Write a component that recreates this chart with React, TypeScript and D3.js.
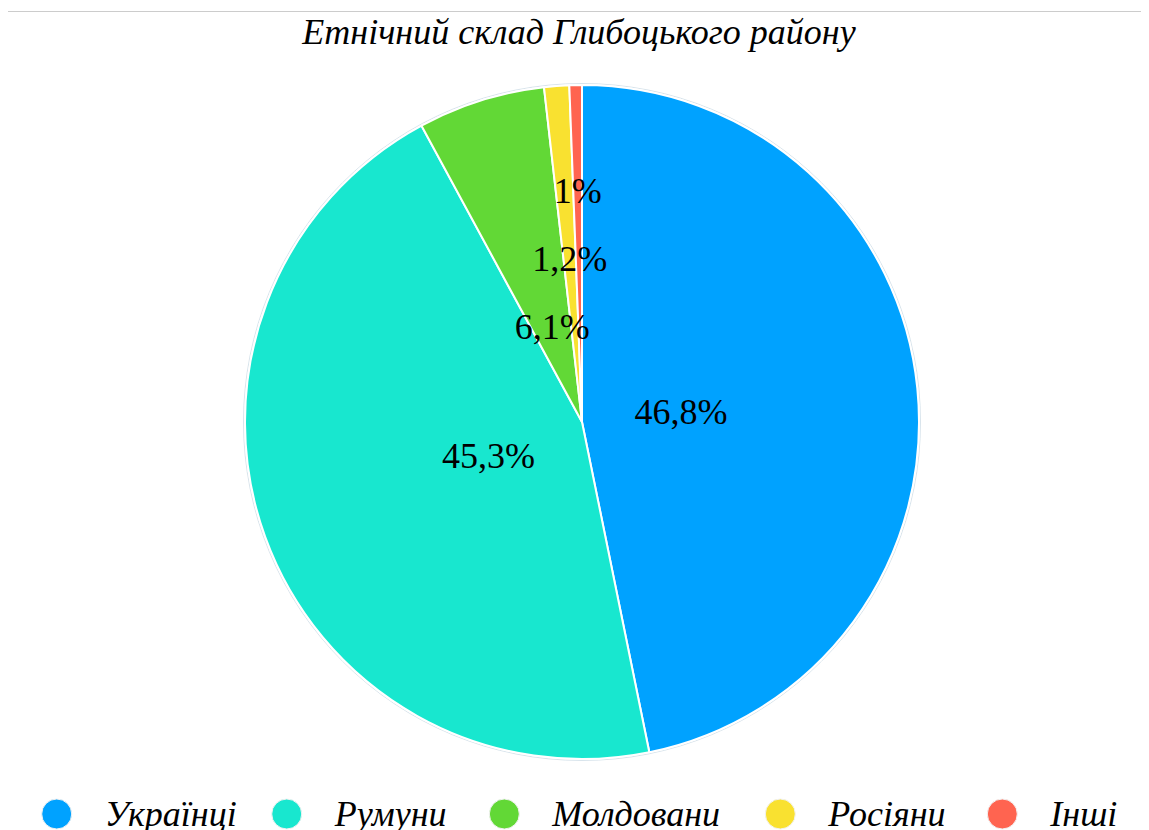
import React from "react";
import * as d3 from "d3";

const title = "Етнічний склад Глибоцького району";
const categories = ["Українці", "Румуни", "Молдовани", "Росіяни", "Інші"];
const values = [46.8, 45.3, 6.1, 1.2, 0.6];
const labels = ["46,8%", "45,3%", "6,1%", "1,2%", "1%"];
const colors = ["#00a2ff", "#18e7cf", "#62d836", "#f9e130", "#ff6450"];

const W = 1149;
const H = 830;
const FONT = "Liberation Serif";
const FS = 36;

// approximate glyph advance widths (em) for a Times-like serif font
const glyphW: Record<string, number> = {
  ",": 0.25, "%": 0.833, "і": 0.278, "ї": 0.278, "ш": 0.722, "м": 0.6,
  "У": 0.556, "Р": 0.611, "М": 0.833, "І": 0.333, "к": 0.444, "с": 0.444,
};
function estWidth(text: string): number {
  let s = 0;
  for (const ch of text) s += glyphW[ch] ?? 0.5;
  return s * FS;
}

export default function App() {
  const cx = 582, cy = 422, R = 337;
  const pie = d3.pie<number>().sort(null).value((d) => d);
  const arcs = pie(values);
  const arc = d3.arc<d3.PieArcDatum<number>>().innerRadius(0).outerRadius(R);

  // labels with simple collision avoidance along the slice ray
  const placed: { x: number; y: number; w: number }[] = [];
  const baseR = R * 0.295;
  const minGap = 68;
  const labelPos = arcs.map((a, i) => {
    const mid = (a.startAngle + a.endAngle) / 2;
    const w = estWidth(labels[i]);
    let r = baseR;
    let x = 0, y = 0;
    for (let k = 0; k < 400; k++) {
      x = Math.sin(mid) * r;
      y = -Math.cos(mid) * r;
      const hit = placed.some((p) => Math.abs(p.x - x) < (p.w + w) / 2 && Math.abs(p.y - y) < minGap);
      if (!hit) break;
      r += 1;
    }
    placed.push({ x, y, w });
    return { x, y };
  });

  // legend layout
  const circR = 15;
  const gapCT = 33;
  const gapItem = 39;
  const widths = categories.map((c) => estWidth(c));
  const total = widths.reduce((s, w) => s + 2 * circR + gapCT + w, 0) + gapItem * (categories.length - 1);
  let x0 = 579 - total / 2;
  const ly = 814;
  const legendItems = categories.map((c, i) => {
    const item = { c, i, cx: x0 + circR, tx: x0 + 2 * circR + gapCT };
    x0 += 2 * circR + gapCT + widths[i] + gapItem;
    return item;
  });

  return (
    <svg width={W - 8} height={H - 8} fontFamily={FONT}>
      <g transform="translate(-8,-8)">
        <rect x={0} y={0} width={W} height={H} fill="#ffffff" />
        <line x1={7} x2={W} y1={11.5} y2={11.5} stroke="#cccccc" strokeWidth={1} />
        <line x1={7} x2={7} y1={11} y2={H} stroke="#999999" strokeWidth={2} />

        <text x={579} y={44} textAnchor="middle" fontFamily={FONT} fontStyle="italic" fontSize={FS} fill="#000">
          {title}
        </text>

        <g transform={`translate(${cx},${cy})`}>
          <circle r={R + 1.5} fill="none" stroke="#d8e4ec" strokeWidth={1} />
          {arcs.map((a, i) => (
            <path key={i} d={arc(a) || ""} fill={colors[i]} stroke="#ffffff" strokeWidth={2} strokeLinejoin="round" />
          ))}
          {labelPos.map((p, i) => (
            <text key={i} x={p.x} y={p.y} dy="0.33em" textAnchor="middle" fontFamily={FONT} fontSize={FS} fill="#000">
              {labels[i]}
            </text>
          ))}
        </g>

        <g>
          {legendItems.map((it) => (
            <g key={it.i}>
              <circle cx={it.cx} cy={ly} r={circR} fill={colors[it.i]} stroke="#f2f2f2" strokeWidth={1} />
              <text x={it.tx} y={ly + 12} fontFamily={FONT} fontStyle="italic" fontSize={FS} fill="#000">
                {it.c}
              </text>
            </g>
          ))}
        </g>
      </g>
    </svg>
  );
}
